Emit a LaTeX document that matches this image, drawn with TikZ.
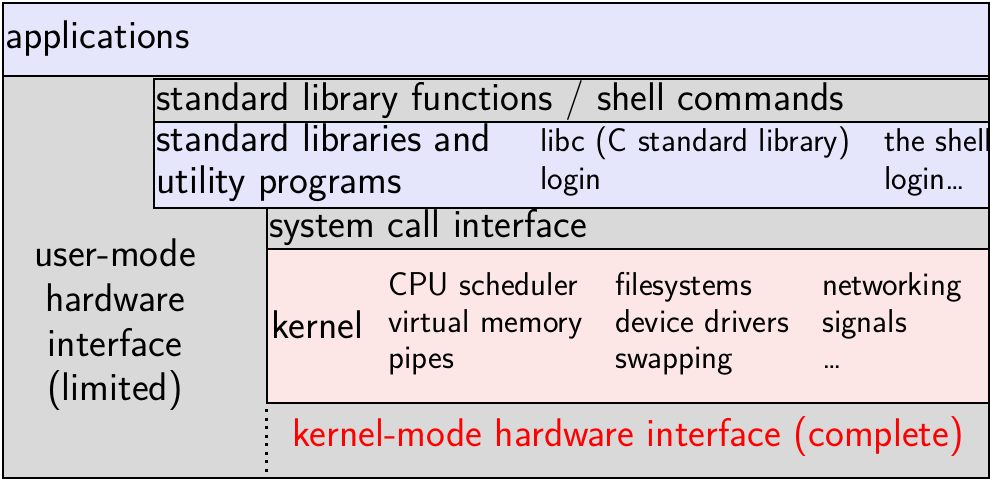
\documentclass[tikz,border=0pt]{standalone}
\definecolor{lav}{HTML}{E5E5FB}
\definecolor{graybg}{HTML}{D9D9D9}
\definecolor{pinkbg}{HTML}{FDE6E6}
\tikzset{
  layer/.style={draw=black, line width=2pt, rectangle, inner sep=0pt, anchor=north west},
  big/.style={font=\sffamily\fontsize{40}{44}\selectfont, anchor=base west, inner sep=0pt},
  small/.style={font=\sffamily\fontsize{33}{37}\selectfont, anchor=base west, inner sep=0pt},
  bigc/.style={font=\sffamily\fontsize{40}{44}\selectfont, anchor=base, inner sep=0pt},
}
\begin{document}
\begin{tikzpicture}[x=1pt,y=-1pt]
\useasboundingbox (0,0) rectangle (990,480);
% user-mode region behind everything
\node[layer, fill=graybg, minimum width=986pt, minimum height=402pt] (user) at (2,75) {};
% applications
\node[layer, fill=lav, minimum width=986pt, minimum height=73pt] (apps) at (2,2) {};
\node[big] (appst) at (5,48) {applications};
% standard library functions / shell commands
\node[layer, fill=graybg, minimum width=835pt, minimum height=43pt] (slf) at (153,78) {};
\node[big] (slft) at (156,110) {standard library functions / shell commands};
% standard libraries and utility programs
\node[layer, fill=lav, minimum width=835pt, minimum height=86pt] (libs) at (153,121) {};
\node[big] (libs1) at (156,151) {standard libraries and};
\node[big] (libs2) at (156,193) {utility programs};
\node[small] (libc1) at (540,151) {libc (C standard library)};
\node[small] (libc2) at (540,189) {login};
\node[small] (shell1) at (884,151) {the shell};
\node[small] (shell2) at (884,189) {login\dots};
% system call interface
\node[layer, fill=graybg, minimum width=722pt, minimum height=41pt] (sci) at (266,207) {};
\node[big] (scit) at (269,237) {system call interface};
% kernel
\node[layer, fill=pinkbg, minimum width=722pt, minimum height=154pt] (kern) at (266,248) {};
\node[big] (kernt) at (271,338) {kernel};
\node[small] (k11) at (388,295) {CPU scheduler};
\node[small] (k12) at (388,332) {virtual memory};
\node[small] (k13) at (388,368) {pipes};
\node[small] (k21) at (615,295) {filesystems};
\node[small] (k22) at (615,332) {device drivers};
\node[small] (k23) at (615,368) {swapping};
\node[small] (k31) at (822,295) {networking};
\node[small] (k32) at (822,332) {signals};
\node[small] (k33) at (822,368) {\dots};
% dotted boundary between the two hardware interfaces
\coordinate (dotbot) at (kern.south west |- user.south);
\draw[line width=3pt, dash pattern=on 3pt off 5.5pt] ([yshift=-5pt]kern.south west) -- (dotbot);
\node[bigc, text=red] (kmode) at (628,446) {kernel-mode hardware interface (complete)};
% user-mode interface label
\node[bigc] (um1) at (115,266) {user-mode};
\node[bigc] (um2) at (115,311) {hardware};
\node[bigc] (um3) at (115,356) {interface};
\node[bigc] (um4) at (115,400) {(limited)};
\end{tikzpicture}
\end{document}
